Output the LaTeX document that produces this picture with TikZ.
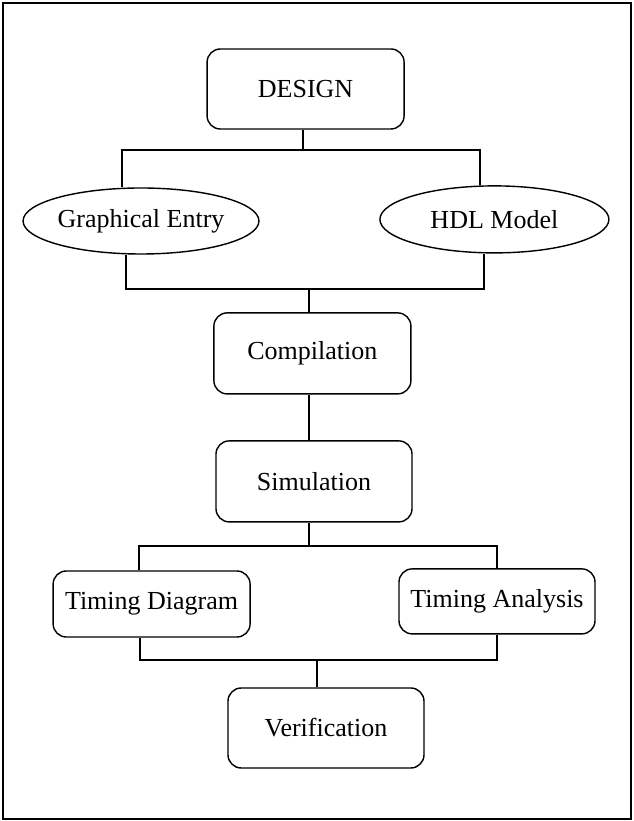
\documentclass[tikz,border=0pt]{standalone}
\usepackage{fontspec}
\setmainfont{Liberation Serif}
\usetikzlibrary{positioning,shapes.geometric}

\begin{document}
\begin{tikzpicture}[
  line width=1pt,
  stage/.style={draw, rounded corners=0.33cm, inner sep=0pt, font=\fontsize{18.5}{22}\selectfont},
  entry/.style={draw, ellipse, inner sep=0pt, font=\fontsize{18.5}{22}\selectfont}]
\useasboundingbox (0,0) rectangle (15.85,20.525);
% Frame
\draw[line width=1.4pt] (0.075,0.05) rectangle (15.775,20.45);
% Nodes
\draw (7.64,18.3) node[stage, minimum width=4.925cm, minimum height=2cm] (design) {DESIGN};
\draw (3.525,15.0) node[entry, minimum width=5.75cm, minimum height=1.65cm] (graph) {Graphical Entry};
\draw (12.36,15.04) node[entry, minimum width=5.725cm, minimum height=1.675cm] (hdl) {HDL Model};
\draw (7.81,11.69) node[stage, minimum width=4.925cm, minimum height=2.025cm] (compile) {Compilation};
\draw (7.85,8.49) node[stage, minimum width=4.9cm, minimum height=2.025cm] (sim) {Simulation};
\draw (3.79,5.425) node[stage, minimum width=4.925cm, minimum height=1.65cm] (tdiag) {Timing Diagram};
\draw (12.425,5.49) node[stage, minimum width=4.9cm, minimum height=1.625cm] (tana) {Timing Analysis};
\draw (8.15,2.325) node[stage, minimum width=4.9cm, minimum height=2cm] (verif) {Verification};
% Lines
\coordinate (busA) at (7.575,16.775);
\coordinate (busB) at (7.725,13.3);
\coordinate (busC) at (7.725,6.875);
\coordinate (busD) at (7.925,4.025);
\draw (design.south -| busA) -- (busA);
\draw ([xshift=-0.475cm]graph.north) |- (busA) -| ([xshift=-0.36cm]hdl.north);
\draw ([xshift=-0.375cm]graph.south) |- (busB) -| ([xshift=-0.26cm]hdl.south);
\draw (busB) -- (compile.north -| busB);
\draw (compile.south -| busB) -- (sim.north -| busB);
\draw (sim.south -| busC) -- (busC);
\draw ([xshift=-0.315cm]tdiag.north) |- (busC) -| (tana.north);
\draw ([xshift=-0.29cm]tdiag.south) |- (busD) -| (tana.south);
\draw (busD) -- (verif.north -| busD);
\end{tikzpicture}
\end{document}
